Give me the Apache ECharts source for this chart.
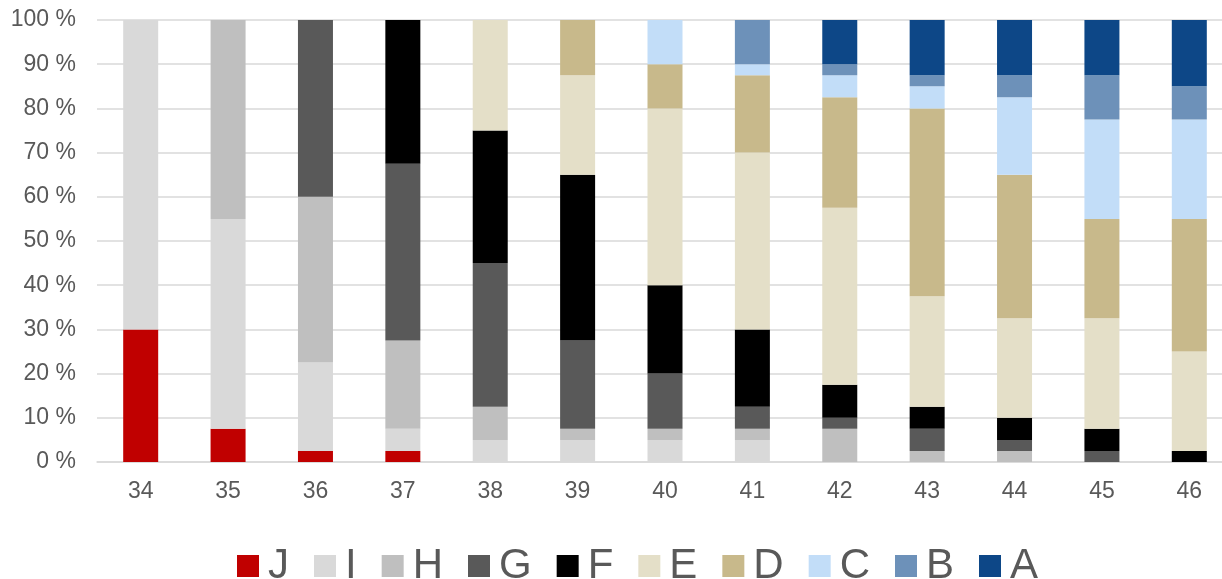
<!DOCTYPE html>
<html>
<head>
<meta charset="utf-8">
<script src="https://cdn.jsdelivr.net/npm/echarts@6/dist/echarts.min.js"></script>
<style>
html,body{margin:0;padding:0;background:#fff;}
#chart{width:1222px;height:579px;}
</style>
</head>
<body>
<div id="chart"></div>
<script>
var categories = ['34','35','36','37','38','39','40','41','42','43','44','45','46'];
var seriesNames = ['J','I','H','G','F','E','D','C','B','A'];
var J = [30, 7.5, 2.5, 2.5, 0, 0, 0, 0, 0, 0, 0, 0, 0];
var I = [70, 47.5, 20, 5, 5, 5, 5, 5, 0, 0, 0, 0, 0];
var H = [0, 45, 37.5, 20, 7.5, 2.5, 2.5, 2.5, 7.5, 2.5, 2.5, 0, 0];
var G = [0, 0, 40, 40, 32.5, 20, 12.5, 5, 2.5, 5, 2.5, 2.5, 0];
var F = [0, 0, 0, 32.5, 30, 37.5, 20, 17.5, 7.5, 5, 5, 5, 2.5];
var E = [0, 0, 0, 0, 25, 22.5, 40, 40, 40, 25, 22.5, 25, 22.5];
var D = [0, 0, 0, 0, 0, 12.5, 10, 17.5, 25, 42.5, 32.5, 22.5, 30];
var C = [0, 0, 0, 0, 0, 0, 10, 2.5, 5, 5, 17.5, 22.5, 22.5];
var B = [0, 0, 0, 0, 0, 0, 0, 10, 2.5, 2.5, 5, 10, 7.5];
var A = [0, 0, 0, 0, 0, 0, 0, 0, 10, 12.5, 12.5, 12.5, 15];
var yTicks = [0, 10, 20, 30, 40, 50, 60, 70, 80, 90, 100];

var colors = {
  J: '#c00000', I: '#d9d9d9', H: '#bfbfbf', G: '#595959', F: '#000000',
  E: '#e4dfc8', D: '#c8b98b', C: '#c2ddf8', B: '#6d91b9', A: '#0d4787'
};
var dataMap = {J:J, I:I, H:H, G:G, F:F, E:E, D:D, C:C, B:B, A:A};

var chart = echarts.init(document.getElementById('chart'), null, {renderer: 'canvas'});
var option = {
  backgroundColor: '#ffffff',
  animation: false,
  grid: { left: 97, top: 20, right: -11, height: 442, containLabel: false, outerBoundsMode: 'none' },
  legend: {
    data: seriesNames,
    left: 232,
    top: 540,
    itemWidth: 22,
    itemHeight: 22,
    itemGap: 25,
    icon: 'rect',
    textStyle: { fontSize: 42, color: '#595959', fontFamily: 'Liberation Sans Narrow, Liberation Sans, Arial, sans-serif', padding: [0,0,0,4] }
  },
  xAxis: {
    type: 'category',
    data: categories,
    axisLine: { show: true, lineStyle: { color: '#d9d9d9', width: 1.5 } },
    axisTick: { show: false },
    axisLabel: { fontSize: 23, color: '#595959', margin: 18, fontFamily: 'Liberation Sans, Arial, sans-serif' }
  },
  yAxis: {
    type: 'value',
    min: yTicks[0],
    max: yTicks[yTicks.length - 1],
    interval: 10,
    axisLine: { show: false },
    axisTick: { show: false },
    splitLine: { show: true, lineStyle: { color: '#d9d9d9', width: 1.5 } },
    axisLabel: { fontSize: 23, color: '#595959', margin: 21, formatter: '{value} %', fontFamily: 'Liberation Sans, Arial, sans-serif' }
  },
  series: seriesNames.map(function (n) {
    return {
      name: n,
      type: 'bar',
      stack: 'total',
      barWidth: 35,
      data: dataMap[n],
      itemStyle: { color: colors[n] }
    };
  })
};
chart.setOption(option);
</script>
</body>
</html>
